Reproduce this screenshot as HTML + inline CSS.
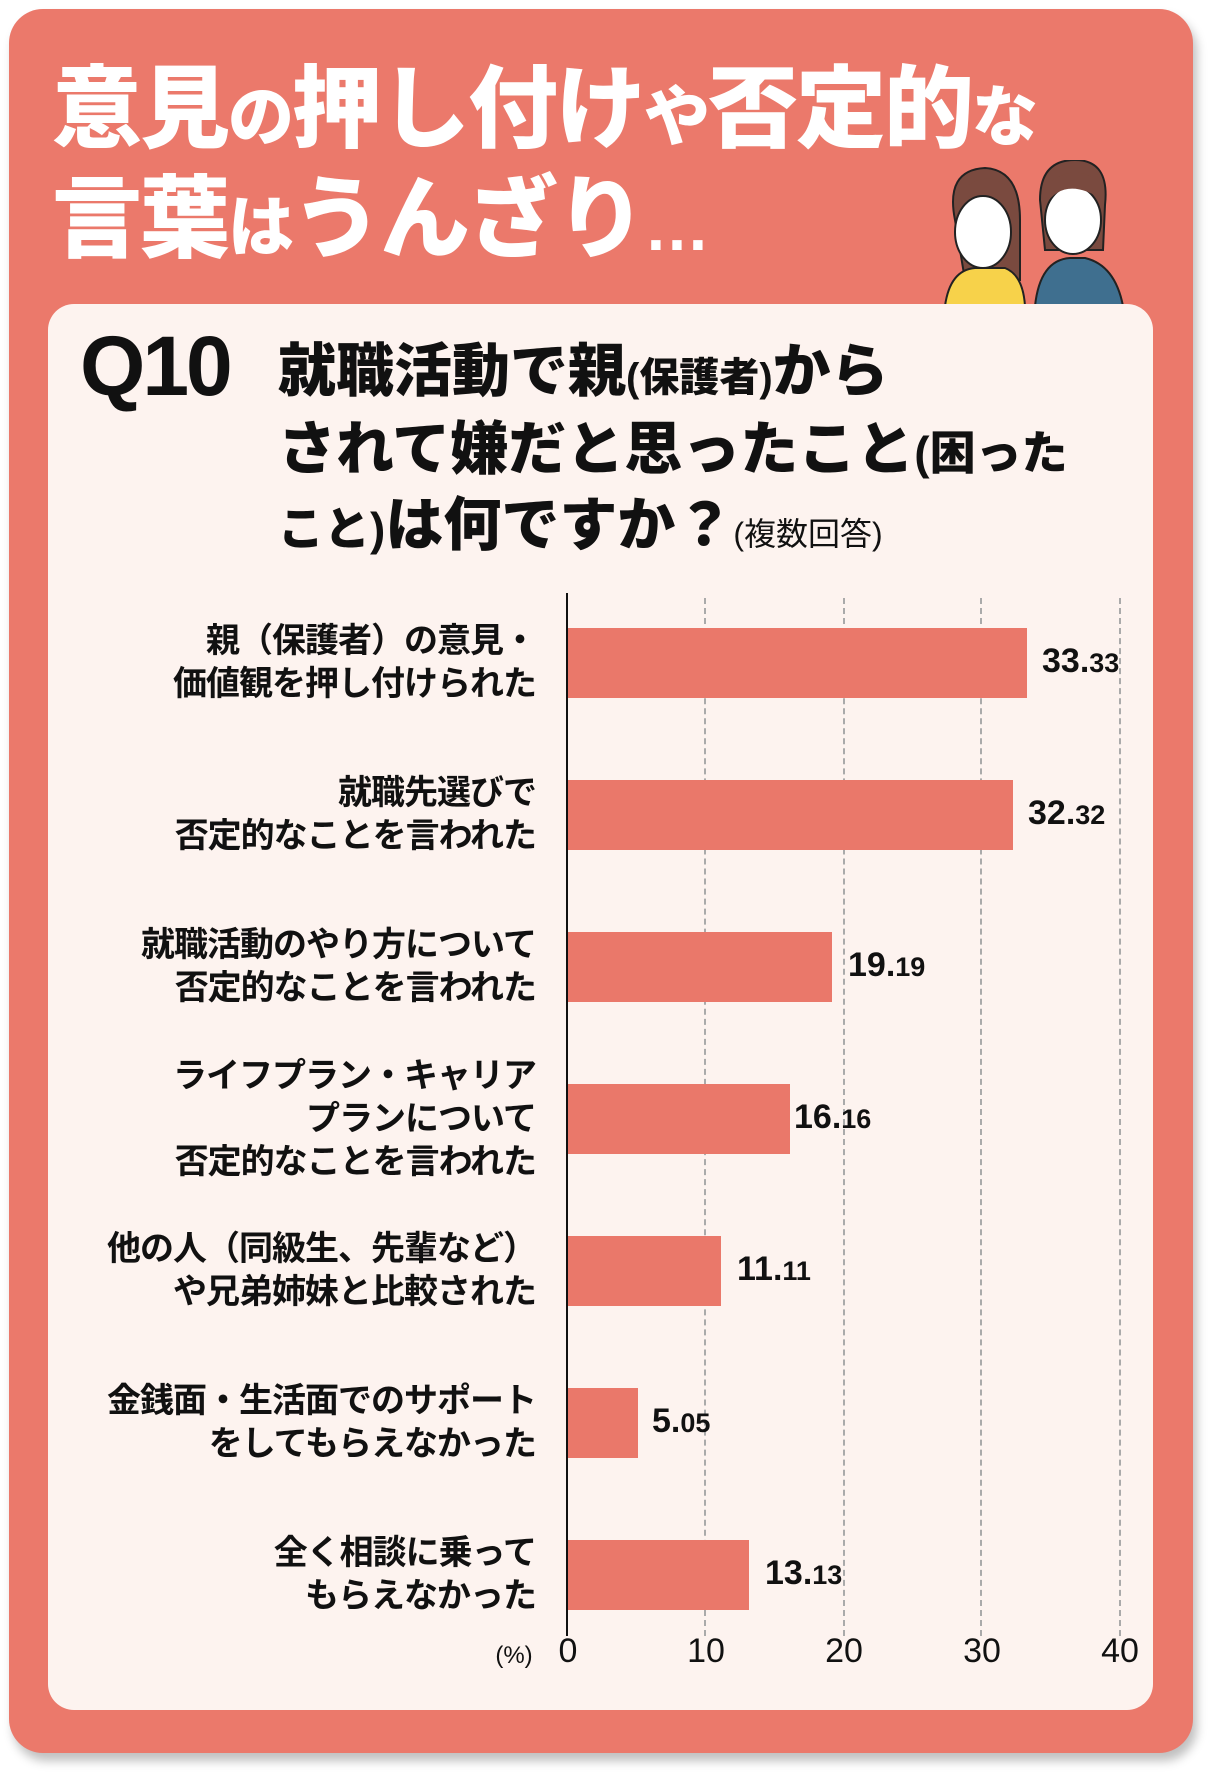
<!DOCTYPE html>
<html><head><meta charset="utf-8"><style>
body{margin:0;width:1220px;height:1778px;background:#fff;position:relative;overflow:hidden;font-family:"Liberation Sans","Noto Sans CJK JP",sans-serif}
.outer{position:absolute;left:9px;top:9px;width:1184px;height:1744px;background:#eb796b;border-radius:34px;box-shadow:4px 8px 10px rgba(0,0,0,0.25)}
.inner{position:absolute;left:48px;top:304px;width:1105px;height:1406px;background:#fdf3ef;border-radius:26px}
.t{position:absolute;color:#fff;font-weight:900;white-space:nowrap;letter-spacing:-2px}
.big{font-size:90px}.sm{font-size:66px}
.q{position:absolute;font-weight:900;color:#111;white-space:nowrap}
.lab{position:absolute;right:684px;text-align:right;font-weight:700;font-size:34px;line-height:43px;color:#111;white-space:nowrap;letter-spacing:-1px}
.bar{position:absolute;left:568px;height:70px;background:#ea786a}
.val{position:absolute;font-weight:900;font-size:34px;color:#111;font-family:"Liberation Sans",sans-serif}
.val small{font-size:27px}
.tick{position:absolute;top:1632px;font-size:34px;color:#111;transform:translateX(-50%)}
.grid{position:absolute;top:598px;height:1038px;border-left:2px dashed #aaa}
</style></head><body>
<div class="outer"></div>
<div class="t" style="left:52px;top:36px"><span class="big">意見</span><span class="sm">の</span><span class="big">押し付け</span><span class="sm">や</span><span class="big">否定的</span><span class="sm">な</span></div>
<div class="t" style="left:52px;top:146px"><span class="big">言葉</span><span class="sm">は</span><span class="big">うんざり</span><span class="sm">…</span></div>
<svg style="position:absolute;left:935px;top:160px" width="200" height="146" viewBox="0 0 200 146">
<path d="M20 60 Q10 10 50 8 Q85 10 85 60 L85 120 L30 120 Z" fill="#7a4a3f" stroke="#222" stroke-width="2"/>
<ellipse cx="48" cy="72" rx="28" ry="36" fill="#fff" stroke="#222" stroke-width="2"/>
<path d="M20 50 Q40 20 76 45 L76 30 Q50 5 22 35Z" fill="#7a4a3f"/>
<path d="M10 146 Q15 110 40 108 L70 108 Q88 115 90 146Z" fill="#f7d24a" stroke="#222" stroke-width="2"/>
<path d="M105 40 Q105 0 140 0 Q175 0 170 45 L168 90 L110 90Z" fill="#7a4a3f" stroke="#222" stroke-width="2"/>
<ellipse cx="138" cy="60" rx="28" ry="34" fill="#fff" stroke="#222" stroke-width="2"/>
<path d="M110 45 Q130 15 168 40 L168 25 Q140 0 112 25Z" fill="#7a4a3f"/>
<path d="M100 146 Q105 100 135 98 L150 98 Q180 105 188 146Z" fill="#3f6f8f" stroke="#222" stroke-width="2"/>
</svg>
<div class="inner"></div>
<div class="q" style="left:80px;top:318px;font-size:84px;letter-spacing:-3px;font-family:'Liberation Sans',sans-serif">Q10</div>
<div class="q" style="left:278px;top:324px;font-size:58px">就職活動で親<span style="font-size:40px">(保護者)</span>から</div>
<div class="q" style="left:278px;top:402px;font-size:58px">されて嫌だと思ったこと<span style="font-size:46px">(困った</span></div>
<div class="q" style="left:278px;top:478px;font-size:58px"><span style="font-size:46px">こと)</span>は何ですか？<span style="font-size:32px;font-weight:400">(複数回答)</span></div>

<div class="grid" style="left:704px"></div><div class="grid" style="left:843px"></div><div class="grid" style="left:980px"></div><div class="grid" style="left:1119px"></div>
<div style="position:absolute;left:566px;top:593px;width:2px;height:1043px;background:#111"></div>

<div class="bar" style="top:628px;width:459px"></div>
<div class="bar" style="top:780px;width:445px"></div>
<div class="bar" style="top:932px;width:264px"></div>
<div class="bar" style="top:1084px;width:222px"></div>
<div class="bar" style="top:1236px;width:153px"></div>
<div class="bar" style="top:1388px;width:70px"></div>
<div class="bar" style="top:1540px;width:181px"></div>

<div class="val" style="left:1042px;top:642px">33.<small>33</small></div>
<div class="val" style="left:1028px;top:794px">32.<small>32</small></div>
<div class="val" style="left:848px;top:946px">19.<small>19</small></div>
<div class="val" style="left:794px;top:1098px">16.<small>16</small></div>
<div class="val" style="left:737px;top:1250px">11.<small>11</small></div>
<div class="val" style="left:652px;top:1402px">5.<small>05</small></div>
<div class="val" style="left:765px;top:1554px">13.<small>13</small></div>

<div class="lab" style="top:620px">親（保護者）の意見・<br>価値観を押し付けられた</div>
<div class="lab" style="top:772px">就職先選びで<br>否定的なことを言われた</div>
<div class="lab" style="top:924px">就職活動のやり方について<br>否定的なことを言われた</div>
<div class="lab" style="top:1055px">ライフプラン・キャリア<br>プランについて<br>否定的なことを言われた</div>
<div class="lab" style="top:1228px">他の人（同級生、先輩など）<br>や兄弟姉妹と比較された</div>
<div class="lab" style="top:1380px">金銭面・生活面でのサポート<br>をしてもらえなかった</div>
<div class="lab" style="top:1532px">全く相談に乗って<br>もらえなかった</div>

<div class="tick" style="left:514px;font-size:24px;top:1642px">(%)</div>
<div class="tick" style="left:568px">0</div>
<div class="tick" style="left:706px">10</div>
<div class="tick" style="left:844px">20</div>
<div class="tick" style="left:982px">30</div>
<div class="tick" style="left:1120px">40</div>
</body></html>
